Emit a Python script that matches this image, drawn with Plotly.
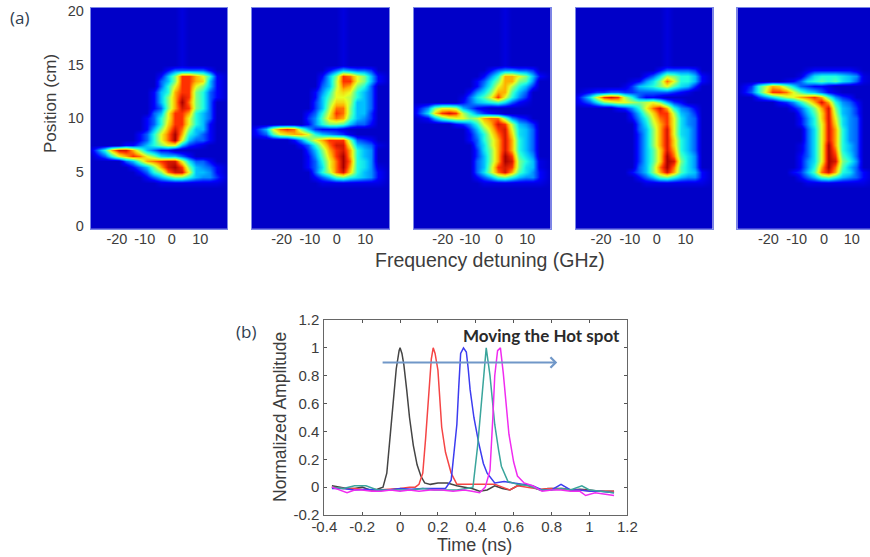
import plotly.graph_objects as go

W, H = 870, 557

freq_ghz = [-28.5,-23.6,-21.2,-18.7,-16.2,-13.8,-11.3,-8.9,-6.4,-4,-1.5,0.9,3.4,5.9,8.3,10.8,13.2,15.7,19.5]
position_cm = [-0.3,3.5,4,4.5,5,5.5,6,6.5,7,7.5,8,8.5,9,9.5,10,10.5,11,11.5,12,12.5,13,13.5,14,14.5,15,20.3]
blank = [0]*19
faint = [0,0,0,0,0,0,0,0,0,0,0,0,.4,0,0,0,0,0,0]

panel_1 = [
[0,0,0,0,0,0,0,0,0,.5,.5,.5,.5,.5,.5,.5,.5,.5,0],
[0,0,0,0,0,0,0,1,2,3,4,5,5,4,3,2.5,2.5,1.5,0],
[0,0,0,0,0,0,1,2,4,5,7.5,8.5,8.5,6,3,3,2.5,1,0],
[0,0,0,0,0,1,2,3,5,7,8.5,9,8,5,3,2.5,2,1,0],
[0,0,0,0,2,3,5,7,7.5,8,8.5,8.5,6,3.5,2,2,1,0,0],
[0,2,4,6,7,8,7.5,6,5,3.5,3,3,2,1,0,0,0,0,0],
[.5,4,7,8.5,8.5,7,5,3,2,1,1,0,0,0,0,0,0,0,0],
[0,0,0,0,1,1,2,3,4,5,6,6,3,1.5,1,.5,0,0,0],
[0,0,0,0,0,0,1,2,4,6,7.5,9,6,3,2,2,1,0,0],
[0,0,0,0,0,0,1,2,4,6,7.5,9,7,4,3,2,1,0,0],
[0,0,0,0,0,0,0,1,3,5,7,8.5,7.5,5,3,3,1,0,0],
[0,0,0,0,0,0,0,1,2,4,6.5,8,8,6,4,3,1,0,0],
[0,0,0,0,0,0,0,1,2,4,6,8,8,6,4,3,2,0,0],
[0,0,0,0,0,0,0,0,2,3,6,8,8,7,4,3,2,0,0],
[0,0,0,0,0,0,0,0,1,2,5,7,8.5,8,5,4,2,0,0],
[0,0,0,0,0,0,0,0,1,3,5,7,9,7.5,5,4,2,0,0],
[0,0,0,0,0,0,0,0,1,3,5,7,8.5,8,5,4,2,1,0],
[0,0,0,0,0,0,0,0,1,3,4,7,8,8,5,4,2,1,0],
[0,0,0,0,0,0,0,0,0,2,4,6,8,8,6,5,3,1,0],
[0,0,0,0,0,0,0,0,0,2,3,5,8,8,7,6.5,3,1,0],
[0,0,0,0,0,0,0,0,0,1,3,5,8,8,7,6,4,1,0],
[0,0,0,0,0,0,0,0,0,0,1,2,2,2,2,2,1,0,0],
]
panel_2 = [
[0,0,0,0,0,0,0,0,0,.5,.5,.5,.5,.5,.5,.5,.5,.5,0],
[0,0,0,0,0,0,0,0,1,2,3,4.5,5,4,3.5,3,2.5,1,0],
[0,0,0,0,0,0,0,0,2,4,5.5,7.5,8.5,6.5,4,3,2.5,1,0],
[0,0,0,0,0,0,0,1,2,3.5,6,7.5,9,7,4,3.5,2.5,.5,0],
[0,0,0,0,0,0,0,1,2,4,6,7.5,9,7.5,4,3.5,2.5,0,0],
[0,0,0,0,0,0,0,1,2.5,4.5,6.5,8,9,7,4,3,2.5,0,0],
[0,0,0,0,0,0,0,1.5,3,5,7,8,8.5,7,4,3,2.5,0,0],
[0,0,0,0,0,0,1,2,4,6,7.5,8.5,8.5,6,3,2.5,2,.5,0],
[0,0,0,0,0,1,2.5,4.5,6,7,8,8,8,5,2,1.5,1,0,0],
[.5,2,4.5,6,6.5,7,7,6,4,3,2.5,2,1.5,.5,0,0,0,0,0],
[.5,3,6,7.5,8,7.5,5,3,1.5,1,1,1,.5,0,0,0,0,0,0],
[0,0,0,0,0,0,0,1,2.5,4,5,5,4.5,3,2,2,1,0,0],
[0,0,0,0,0,0,0,1.5,2.5,4.5,6.5,7.5,7,4.5,3,2.5,1.5,0,0],
[0,0,0,0,0,0,0,1,2,4,6,8,7.5,5,3,3,1.5,0,0],
[0,0,0,0,0,0,0,0,1.5,3,5.5,7.5,7.5,5,3,3,2,0,0],
[0,0,0,0,0,0,0,0,1.5,3,5,6.5,6.5,5.5,3,3,2,0,0],
[0,0,0,0,0,0,0,0,1,3,4.5,6,6,5.5,4,3,2,0,0],
[0,0,0,0,0,0,0,0,1,2.5,4,6,6.5,6,4,3,2,0,0],
[0,0,0,0,0,0,0,0,0,2,3,5.5,7.5,7,5,4,2,0,0],
[0,0,0,0,0,0,0,0,0,1.5,3,5.5,8,8,6,5,3,1,0],
[0,0,0,0,0,0,0,0,0,1,3,5,8,7.5,6,5,3,1,0],
[0,0,0,0,0,0,0,0,0,0,1,2,3,2.5,2,2,1.5,0,0],
]
panel_3 = [
[0,0,0,0,0,0,0,0,0,.5,.5,.5,.5,.5,.5,.5,.5,.5,0],
[0,0,0,0,0,0,0,0,1,2,3,4.5,5,4,3,2.5,2.5,1,0],
[0,0,0,0,0,0,0,0,2,3.5,5.5,7.5,8.5,7,4.5,3.5,2.5,1,0],
[0,0,0,0,0,0,0,0,2,3,5.5,8,8.5,8,5,3.5,3,.5,0],
[0,0,0,0,0,0,0,0,2,3,5,7,9,8.5,5,4,3,.5,0],
[0,0,0,0,0,0,0,0,1.5,3,5,7,9,8,4.5,3.5,2.5,0,0],
[0,0,0,0,0,0,0,0,1.5,3.5,5,7,8.5,7,4,3,2,0,0],
[0,0,0,0,0,0,0,0,2,3.5,5.5,7,8.5,7,4,3,2,0,0],
[0,0,0,0,0,0,0,1,2,4,5.5,7,8.5,7,4,3,2,0,0],
[0,0,0,0,0,0,0,1,2.5,4,6,7.5,8.5,6.5,3.5,3,2,0,0],
[0,0,0,0,0,0,0,1.5,3,5,6.5,8,8.5,6,3.5,3,2,0,0],
[0,0,0,0,0,1,1.5,2.5,4,6,7,8.5,8,5.5,3,2.5,1.5,0,0],
[0,1,3,4.5,5.5,6,6,5,5.5,7,7.5,7.5,5,2.5,1.5,1,0,0,0],
[.5,3.5,6.5,8,8.5,8,5.5,4,2.5,1.5,1,.5,0,0,0,0,0,0,0],
[.5,2.5,5,6,6,5.5,3,2,1,.5,0,0,0,0,0,0,0,0,0],
[0,0,0,0,0,0,1,2,3,3.5,4,4.5,3.5,2,1,.5,0,0,0],
[0,0,0,0,0,0,.5,2,3.5,4.5,6,8,6,4,2.5,1.5,0,0,0],
[0,0,0,0,0,0,0,1,2.5,3.5,5,7,7,4.5,3,2,0,0,0],
[0,0,0,0,0,0,0,0,1,2.5,4,6,7,5.5,4,3,1.5,0,0],
[0,0,0,0,0,0,0,0,1,2,3.5,5,7,7,5,4.5,2.5,0,0],
[0,0,0,0,0,0,0,0,0,1,2.5,4,7,7,6,5,3,1,0],
[0,0,0,0,0,0,0,0,0,0,1,2,2.5,2.5,2,2,1.5,0,0],
]
panel_4 = [
[0,0,0,0,0,0,0,0,0,.5,.5,.5,.5,.5,.5,.5,.5,.5,0],
[0,0,0,0,0,0,0,0,1,2,3,4.5,5,4,3,2.5,2.5,1,0],
[0,0,0,0,0,0,0,1,2,3,5,7,8.5,7,4.5,3.5,3,1,0],
[0,0,0,0,0,0,0,0,2,3,5,7.5,9,7.5,4.5,3.5,2.5,0,0],
[0,0,0,0,0,0,0,0,1.5,3,4.5,6.5,9,8.5,5,3.5,2.5,0,0],
[0,0,0,0,0,0,0,0,1.5,3,4.5,6.5,9,7.5,4.5,3.5,2.5,0,0],
[0,0,0,0,0,0,0,0,1.5,3,4.5,6.5,8.5,7,4,3,2,0,0],
[0,0,0,0,0,0,0,0,1.5,3,5,7,8.5,6.5,4,3,2,0,0],
[0,0,0,0,0,0,0,0,1.5,3,5,7,8.5,6.5,4,3,2,0,0],
[0,0,0,0,0,0,0,0,1.5,3,5,7,8.5,6,3.5,3,2,0,0],
[0,0,0,0,0,0,0,0,2,3,5,7,8.5,6,3.5,3,2,0,0],
[0,0,0,0,0,0,0,0,2,3.5,5.5,7,8,6,3.5,2.5,2,0,0],
[0,0,0,0,0,0,0,1,2.5,4,6,7.5,8,6,3.5,2.5,2,0,0],
[0,0,0,0,0,0,0,1.5,3,5,6.5,8,8,5.5,3,2.5,1.5,0,0],
[0,0,0,0,0,1,1.5,2.5,4,6,7.5,8.5,7,4,2.5,2,1,0,0],
[.5,2,3.5,5,5.5,6,6,5.5,5,5.5,6,5,3,1.5,1,0,0,0,0],
[.5,3.5,6,8,8.5,8,5.5,4,2,1,1,.5,0,0,0,0,0,0,0],
[0,1,1.5,1.5,2,2,1.5,1.5,2,2,2,2,2,1.5,1,.5,0,0,0],
[0,0,0,0,0,0,.5,1.5,3,3.5,4,5,6,4.5,3.5,3,1.5,0,0],
[0,0,0,0,0,0,0,.5,1,2.5,3.5,5,7.5,6,4,4,3,1,0],
[0,0,0,0,0,0,0,0,0,1,2,3.5,5.5,5,4,4,3,1,0],
[0,0,0,0,0,0,0,0,0,0,0,1,2,2,2,2,1.5,0,0],
]
panel_5 = [
[0,0,0,0,0,0,0,0,0,.5,.5,.5,.5,.5,.5,.5,.5,.5,0],
[0,0,0,0,0,0,0,0,1,2,3,4.5,5,4,3,2.5,2,1,0],
[0,0,0,0,0,0,0,1,1.5,3,4.5,7.5,8.5,7,4,3.5,2,1,0],
[0,0,0,0,0,0,0,0,1,2.5,4,7,9,7.5,4.5,3,2,0,0],
[0,0,0,0,0,0,0,0,1,2.5,3.5,6,9,8.5,5,4,2.5,0,0],
[0,0,0,0,0,0,0,0,1,2,3.5,6,9,8,4.5,3.5,2,0,0],
[0,0,0,0,0,0,0,0,.5,2,3.5,6,9,7.5,4,3,2,0,0],
[0,0,0,0,0,0,0,0,.5,2,3.5,6,9,7,4,3,2,0,0],
[0,0,0,0,0,0,0,0,0,2,3.5,6,8.5,7,4,2.5,2,0,0],
[0,0,0,0,0,0,0,0,0,2,3.5,6,8.5,7,4,2.5,2,0,0],
[0,0,0,0,0,0,0,0,0,2,3.5,6,8.5,7,4,2.5,2,0,0],
[0,0,0,0,0,0,0,0,1,2.5,4,6,8.5,6.5,3.5,2.5,2,0,0],
[0,0,0,0,0,0,0,0,1,2.5,4,6.5,8.5,6,3.5,2.5,2,0,0],
[0,0,0,0,0,0,0,0,1.5,3,4.5,6.5,8.5,5.5,3,2.5,1.5,0,0],
[0,0,0,0,0,0,0,1,2,3.5,5,7,8.5,5,3,2.5,1.5,0,0],
[0,0,0,0,0,1,1.5,2.5,4,5.5,7,8.5,7,4,2.5,2,1,0,0],
[0,0,1.5,2.5,3.5,4.5,5.5,6,7,7.5,8,7,4.5,2.5,1.5,1,0,0,0],
[0,2,4,6,8,8,7.5,6,4.5,3.5,3,2,1,.5,0,0,0,0,0],
[0,1.5,4,5.5,7,6.5,5,3.5,2,1.5,1,1,.5,0,0,0,0,0,0],
[0,0,0,0,0,0,.5,1,2,3.5,4,4.5,4,4.5,3.5,3,2,.5,0],
[0,0,0,0,0,0,0,0,.5,2,3.5,4,4,4,3.5,3,2.5,.5,0],
[0,0,0,0,0,0,0,0,0,.5,1,1,1,1,1,1,.5,0,0],
]
panels = [panel_1, panel_2, panel_3, panel_4, panel_5]
top_rows = [faint, faint, faint, faint, blank]

freq_ticks = [
    [-19.3,-9.5,0,10],
    [-18.1,-8.2,1.2,11.2],
    [-18.3,-8.8,1.4,11.3],
    [-19.6,-9.5,-0.1,10],
    [-17.6,-7.7,1.9,11.6],
]
freq_tick_text = ["-20","-10","0","10"]
panel_left_px = [90.7, 252, 413.7, 575.7, 737.3]
panel_right_px = [227.3, 389, 550.7, 712.7, 870]
panel_freq_max = [19.5, 19.5, 19.5, 19.5, 18.0]

# Normalised traces of panel (b)
black_t = [-.36,-.32,-.28,-.24,-.2,-.16,-.12,-.09,-.07,-.05,-.035,-.02,-.005,0,.01,.02,.035,.05,.07,.09,.11,.13,.16,.2,.25,.3,.34,.38,.42,.46,.5,.54,.58,.62,.66,.7,.74,.78,.82,.86,.9,.95,1,1.05,1.13]
black_a = [.01,0,-.01,-.01,0,-.02,-.015,0,.1,.4,.6,.85,.98,1,.96,.88,.7,.5,.3,.16,.08,.03,.02,.03,.03,.01,0,-.01,-.03,-.02,.01,-.01,-.02,.01,.02,0,-.02,-.01,-.01,-.01,-.02,-.015,-.02,-.03,-.03]
red_t = [-.36,-.3,-.24,-.18,-.12,-.06,0,.05,.08,.1,.12,.135,.15,.165,.175,.185,.2,.22,.24,.27,.3,.35,.4,.45,.5,.54,.58,.62,.68,.74,.8,.86,.92,.98,1.05,1.13]
red_a = [0,-.01,-.01,-.02,-.02,-.015,-.01,0,0,.02,.1,.35,.67,.92,1,.96,.84,.43,.25,.1,.02,.02,.02,.02,.02,0,-.02,.01,0,-.015,-.01,-.015,-.02,-.02,-.03,-.03]
blue_t = [-.36,-.3,-.24,-.18,-.12,-.06,0,.06,.12,.18,.24,.27,.285,.3,.31,.32,.335,.35,.36,.37,.39,.415,.44,.46,.5,.55,.6,.65,.7,.75,.8,.85,.9,.95,1,1.06,1.13]
blue_a = [-.01,-.01,-.02,-.015,-.02,-.02,-.01,-.015,-.01,-.01,-.01,.05,.25,.45,.72,.96,1,.97,.85,.7,.5,.32,.17,.1,.03,.04,.03,.02,.01,-.02,-.02,.02,-.02,-.02,-.03,-.03,-.04]
teal_t = [-.36,-.3,-.24,-.18,-.12,-.06,0,.06,.12,.18,.24,.3,.35,.385,.41,.425,.44,.455,.475,.49,.5,.52,.535,.57,.62,.68,.74,.8,.85,.9,.96,1,1.06,1.13]
teal_a = [0,-.01,.01,.01,-.02,-.02,-.015,-.02,-.01,-.02,-.02,-.02,-.01,0,.3,.55,.8,1,.8,.6,.45,.27,.15,.04,.02,.01,-.02,-.02,-.01,-.02,.01,-.02,-.03,-.04]
magenta_t = [-.36,-.32,-.28,-.24,-.2,-.15,-.1,-.05,0,.05,.1,.16,.22,.28,.34,.38,.42,.45,.475,.49,.5,.515,.53,.545,.56,.575,.6,.62,.655,.7,.75,.8,.85,.9,.95,.98,1.03,1.08,1.13]
magenta_a = [0,-.02,-.04,-.02,-.02,-.03,-.03,-.02,-.03,-.02,-.03,-.02,-.02,-.03,-.02,-.03,-.04,0,.12,.5,.8,.98,1,.82,.6,.38,.18,.08,.03,.01,-.03,-.02,-.02,-.03,-.03,-.06,-.04,-.05,-.06]
traces = [
    (black_t, black_a, "#444444"),
    (red_t, red_a, "#f54545"),
    (blue_t, blue_a, "#3c3cf0"),
    (teal_t, teal_a, "#3aa59c"),
    (magenta_t, magenta_a, "#f02cf0"),
]
time_ticks = [-.4,-.2,0,.2,.4,.6,.8,1,1.2]
time_tick_text = ["-0.4","-0.2","0","0.2","0.4","0.6","0.8","1","1.2"]
amp_ticks = [-.2,0,.2,.4,.6,.8,1,1.2]
amp_tick_text = ["-0.2","0","0.2","0.4","0.6","0.8","1","1.2"]

jet = ["#0000c8","#0000ff","#0060ff","#00c0ff","#20ffe0","#80ff80","#e8ff20","#ffb000","#ff3000","#a80000"]
colorscale = [[i/9, c] for i, c in enumerate(jet)]

FONT = "Liberation Sans"
GREY = "#3c3c3c"
fig = go.Figure()

def fx(p): return p / W
def fy(p): return 1 - p / H

layout = dict(width=W, height=H, autosize=False, margin=dict(l=0, r=0, t=0, b=0, pad=0),
              paper_bgcolor="white", plot_bgcolor="white", showlegend=False,
              font=dict(family=FONT, color=GREY))

for i, rows in enumerate(panels):
    n = i + 1
    s = "" if n == 1 else str(n)
    z = [blank, blank] + rows + [top_rows[i], top_rows[i]]
    fig.add_trace(go.Heatmap(x=freq_ghz, y=position_cm, z=z, zmin=0, zmax=9, zsmooth="best",
                             colorscale=colorscale, showscale=False, xaxis="x"+s, yaxis="y"+s))
    layout["xaxis"+s] = dict(domain=[fx(panel_left_px[i]), fx(panel_right_px[i])], range=[-28.5, panel_freq_max[i]],
                             anchor="y"+s, tickmode="array", tickvals=freq_ticks[i], ticktext=freq_tick_text,
                             ticks="", ticklabelstandoff=-3, showgrid=False, zeroline=False,
                             automargin=False,
                             tickfont=dict(size=14.5, color=GREY), showline=True, linecolor="#7a86e6", linewidth=1, mirror=True)
    layout["yaxis"+s] = dict(domain=[fy(228.7), fy(8)], range=[-0.3, 20.3], anchor="x"+s,
                             tickmode="array", tickvals=[0,5,10,15,20] if n == 1 else [],
                             ticks="outside" if n == 1 else "", ticklen=3, tickcolor="rgba(0,0,0,0)", showgrid=False, zeroline=False,
                             automargin=False,
                             tickfont=dict(size=14.5, color=GREY), showline=True, linecolor="#7a86e6", linewidth=1, mirror=True)

for t, a, c in traces:
    fig.add_trace(go.Scatter(x=t, y=a, mode="lines", line=dict(color=c, width=1.5), xaxis="x6", yaxis="y6"))

layout["xaxis6"] = dict(domain=[fx(324.3), fx(627.3)], range=[-.4, 1.2], anchor="y6", tickmode="array",
                        tickvals=time_ticks, ticktext=time_tick_text, ticks="inside", ticklen=3, tickcolor="#555",
                        showline=True, linecolor="#666", mirror="ticks", showgrid=False, zeroline=False,
                        automargin=False, ticklabelstandoff=-2,
                        tickfont=dict(size=15, color=GREY))
layout["yaxis6"] = dict(domain=[fy(515), fy(320)], range=[-.2, 1.2], anchor="x6", tickmode="array",
                        tickvals=amp_ticks, ticktext=amp_tick_text, ticks="inside", ticklen=3, tickcolor="#555",
                        showline=True, linecolor="#666", mirror="ticks", showgrid=False, zeroline=False,
                        automargin=False, ticklabelstandoff=1,
                        tickfont=dict(size=15, color=GREY))

def label(text, x, y, size, color=GREY, family=FONT, angle=0):
    return dict(text=text, xref="paper", yref="paper", x=fx(x), y=fy(y), showarrow=False,
                xanchor="center", yanchor="middle", textangle=angle, font=dict(size=size, color=color, family=family))

layout["annotations"] = [
    label("Frequency detuning (GHz)", 490, 260, 19.5),
    label("Position (cm)", 51, 104, 17, angle=-90),
    label("Time (ns)", 474, 545, 18),
    label("Normalized Amplitude", 280, 417, 17.5, angle=-90),
    label("(a)", 19, 18, 17, color="#2f4050", family="Open Sans"),
    label("(b)", 246, 332, 17, color="#2f4050", family="Open Sans"),
    label("<b>Moving the Hot spot</b>", 541, 335, 17, color="#2a2a2a", family="Lato"),
    dict(x=.83, y=.895, ax=-.1, ay=.895, xref="x6", yref="y6", axref="x6", ayref="y6", text="",
         showarrow=True, arrowhead=4, arrowsize=1, arrowwidth=2, arrowcolor="#7097c8"),
]
fig.update_layout(**layout)
fig.write_html("out.html", config={"displayModeBar": False},
               post_script="document.body.style.margin='0';document.documentElement.style.overflow='hidden';")
